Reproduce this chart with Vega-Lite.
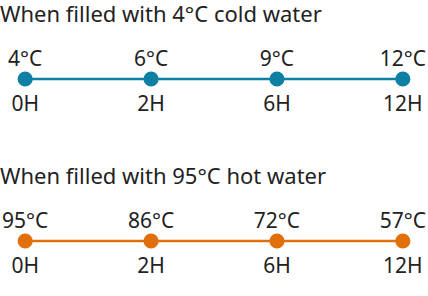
{
  "$schema": "https://vega.github.io/schema/vega-lite/v6.json",
  "padding": {"top": 4, "left": 0, "right": 0, "bottom": 10},
  "background": "white",
  "data": {
    "values": [
      {"title": "When filled with 4°C cold water", "water": "cold", "time": "0H", "temp": 4, "label": "4°C"},
      {"title": "When filled with 4°C cold water", "water": "cold", "time": "2H", "temp": 6, "label": "6°C"},
      {"title": "When filled with 4°C cold water", "water": "cold", "time": "6H", "temp": 9, "label": "9°C"},
      {"title": "When filled with 4°C cold water", "water": "cold", "time": "12H", "temp": 12, "label": "12°C"},
      {"title": "When filled with 95°C hot water", "water": "hot", "time": "0H", "temp": 95, "label": "95°C"},
      {"title": "When filled with 95°C hot water", "water": "hot", "time": "2H", "temp": 86, "label": "86°C"},
      {"title": "When filled with 95°C hot water", "water": "hot", "time": "6H", "temp": 72, "label": "72°C"},
      {"title": "When filled with 95°C hot water", "water": "hot", "time": "12H", "temp": 57, "label": "57°C"}
    ]
  },
  "facet": {
    "row": {
      "field": "title",
      "sort": ["When filled with 4°C cold water", "When filled with 95°C hot water"],
      "header": {
        "title": null,
        "labelOrient": "top",
        "labelAnchor": "start",
        "labelAngle": 0,
        "labelAlign": "left",
        "labelFont": "Noto Sans",
        "labelFontSize": 22,
        "labelColor": "#222222",
        "labelPadding": 0
      }
    }
  },
  "spacing": 51,
  "spec": {
    "width": 428,
    "height": 56,
    "encoding": {
      "x": {"field": "time", "type": "ordinal", "sort": ["0H", "2H", "6H", "12H"], "scale": {"type": "point", "padding": 0.2}, "axis": null},
      "color": {"field": "water", "type": "nominal", "scale": {"domain": ["cold", "hot"], "range": ["#0e80a3", "#e06f0c"]}, "legend": null}
    },
    "layer": [
      {"mark": {"type": "line", "strokeWidth": 2.5}},
      {"mark": {"type": "circle", "size": 230, "opacity": 1}},
      {"mark": {"type": "text", "font": "Noto Sans", "fontSize": 21, "baseline": "alphabetic", "dy": -13, "color": "#222222"}, "encoding": {"text": {"field": "label"}, "color": {"value": "#222222"}}},
      {"mark": {"type": "text", "font": "Noto Sans", "fontSize": 21, "baseline": "alphabetic", "dy": 32, "color": "#222222"}, "encoding": {"text": {"field": "time"}, "color": {"value": "#222222"}}}
    ]
  },
  "config": {"view": {"stroke": null}}
}
